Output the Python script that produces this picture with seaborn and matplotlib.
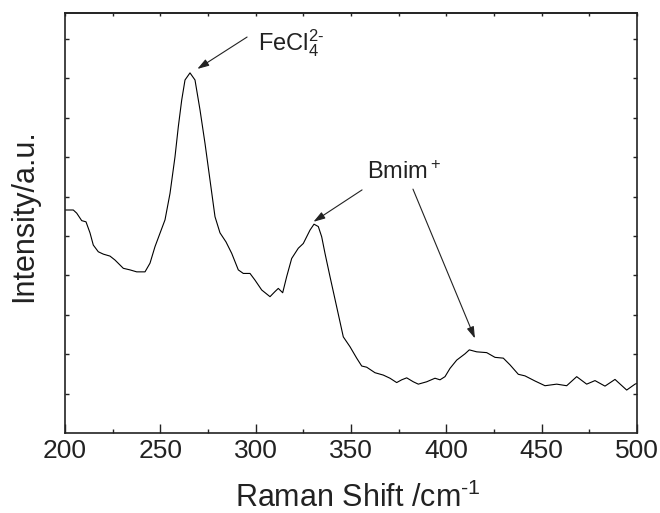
import numpy as np
import pandas as pd
import matplotlib
matplotlib.use("Agg")
import matplotlib.pyplot as plt
from matplotlib.ticker import MultipleLocator
import seaborn as sns

# Raman spectrum
raman_shift = [200.0, 204.35, 206.14, 208.76, 211.01, 213.11, 214.84, 217.46, 220.09, 223.60,
               226.22, 230.58, 234.09, 237.60, 241.96, 244.58, 247.20, 249.82, 252.45, 255.07,
               257.69, 259.42, 261.21, 262.94, 265.56, 268.18, 270.81, 273.43, 276.05, 278.67,
               281.29, 284.44, 287.43, 290.89, 293.51, 297.03, 299.65, 303.16, 307.52, 310.14,
               311.87, 314.17, 316.27, 318.89, 322.36, 324.98, 328.50, 330.59, 332.85, 334.63,
               336.36, 338.98, 342.50, 345.96, 349.47, 352.98, 355.61, 358.23, 362.58, 366.94,
               370.45, 373.96, 376.59, 379.21, 382.67, 385.30, 389.70, 394.05, 396.68, 399.30,
               401.92, 405.44, 409.79, 412.05, 415.93, 421.17, 425.52, 429.88, 433.39, 437.75,
               441.25, 446.50, 451.74, 457.88, 463.12, 468.37, 473.61, 477.97, 483.21, 488.46,
               494.59, 498.95, 500.0]
intensity = [5.66, 5.66, 5.58, 5.39, 5.36, 5.08, 4.77, 4.60, 4.54, 4.49,
             4.39, 4.18, 4.14, 4.09, 4.09, 4.31, 4.73, 5.07, 5.41, 6.08,
             7.01, 7.77, 8.45, 8.96, 9.14, 8.96, 8.20, 7.35, 6.42, 5.49,
             5.08, 4.85, 4.56, 4.14, 4.05, 4.05, 3.88, 3.63, 3.46, 3.59,
             3.67, 3.56, 3.97, 4.43, 4.69, 4.81, 5.15, 5.30, 5.24, 4.98,
             4.56, 3.97, 3.20, 2.44, 2.19, 1.90, 1.70, 1.67, 1.53, 1.47,
             1.39, 1.28, 1.35, 1.40, 1.30, 1.24, 1.30, 1.39, 1.35, 1.43,
             1.64, 1.85, 2.01, 2.11, 2.06, 2.04, 1.92, 1.90, 1.73, 1.49,
             1.45, 1.32, 1.20, 1.24, 1.20, 1.43, 1.24, 1.33, 1.19, 1.36,
             1.09, 1.24, 1.26]

x_ticks = [200, 250, 300, 350, 400, 450, 500]
x_tick_labels = ["200", "250", "300", "350", "400", "450", "500"]
y_ticks = [1, 2, 3, 4, 5, 6, 7, 8, 9, 10]

# annotations: (label, text anchor, list of (tail, tip))
fecl_label = "FeCl$_4^{2\\text{-}}$"
fecl_text_xy = (301.2, 9.72)
fecl_arrows = [((295.5, 10.05), (269.4, 9.24))]
bmim_label = "Bmim$^+$"
bmim_text_xy = (358.2, 6.44)
bmim_arrows = [((355.8, 6.17), (330.3, 5.36)), ((382.5, 6.19), (415.0, 2.40))]

sns.set_style("ticks")
plt.rcParams["font.family"] = ["Liberation Sans", "DejaVu Sans"]
plt.rcParams["mathtext.fontset"] = "custom"
plt.rcParams["mathtext.rm"] = "Liberation Sans"
plt.rcParams["mathtext.it"] = "Liberation Sans:italic"
plt.rcParams["mathtext.bf"] = "Liberation Sans:bold"

df = pd.DataFrame({"shift": raman_shift, "intensity": intensity})

fig = plt.figure(figsize=(6.6, 5.13), dpi=100)
ax = fig.add_axes([65 / 660, 80 / 513, 572 / 660, 420 / 513])

sns.lineplot(data=df, x="shift", y="intensity", ax=ax, color="black",
             linewidth=0.8, sort=False, estimator=None)
for ln in ax.lines:
    ln.set_solid_joinstyle("round")

ax.set_xlim(200, 500)
ax.set_ylim(0, 10.66)
ax.set_xticks(x_ticks)
ax.set_xticklabels(x_tick_labels)
ax.xaxis.set_minor_locator(MultipleLocator(25))
ax.set_yticks(y_ticks)
ax.set_yticklabels([])

for s in ax.spines.values():
    s.set_linewidth(1.2)
    s.set_color("#222222")

ax.tick_params(axis="x", which="major", direction="in", length=6.5, width=1.0,
               labelsize=19, pad=4, top=False, bottom=True, colors="#222222")
ax.tick_params(axis="x", which="minor", direction="in", length=3, width=1.0,
               top=False, bottom=True, colors="#222222")
ax.tick_params(axis="y", which="major", direction="in", length=3, width=1.0,
               left=True, right=True, colors="#222222")

secax = ax.secondary_xaxis("top")
secax.set_xticks(np.arange(200, 501, 25))
secax.tick_params(direction="in", length=2.5, width=1.0, labeltop=False, colors="#222222")
secax.spines["top"].set_linewidth(1.2)

ax.set_xlabel("Raman Shift /cm$^{\\text{-}1}$", fontsize=22, color="#222222")
ax.set_ylabel("Intensity/a.u.", fontsize=22, color="#222222")
ax.xaxis.set_label_coords(0.512, -0.118)
ax.yaxis.set_label_coords(-0.045, 0.517)

ax.text(*fecl_text_xy, fecl_label, fontsize=17, ha="left", va="baseline", color="#222222")
ax.text(*bmim_text_xy, bmim_label, fontsize=17, ha="left", va="baseline", color="#222222")
arrow_style = dict(arrowstyle="-|>,head_length=0.7,head_width=0.22", color="#222222",
                   lw=0.8, shrinkA=0, shrinkB=0)
for tail, tip in fecl_arrows + bmim_arrows:
    ax.annotate("", xy=tip, xytext=tail, arrowprops=arrow_style)

fig.savefig("out.png", dpi=100)
